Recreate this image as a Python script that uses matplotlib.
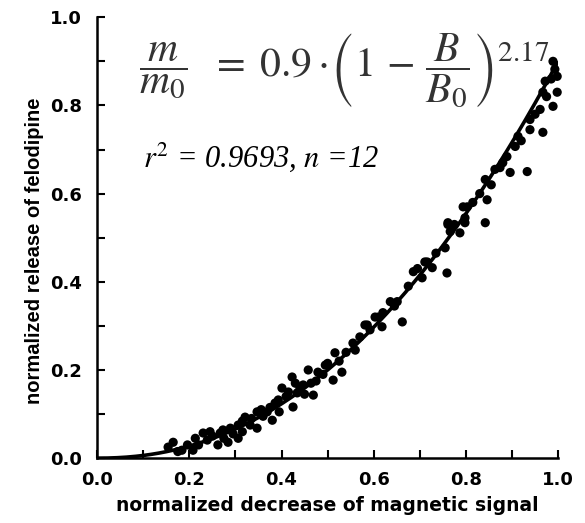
import matplotlib
matplotlib.use("Agg")
import matplotlib.pyplot as plt
import numpy as np

# Data
x_data = [0.154, 0.165, 0.184, 0.208, 0.213, 0.230, 0.239, 0.262, 0.267, 0.284,
          0.289, 0.306, 0.306, 0.321, 0.332, 0.347, 0.347, 0.369, 0.380, 0.386,
          0.393, 0.401, 0.423, 0.425, 0.434, 0.440, 0.447, 0.458, 0.469, 0.479,
          0.495, 0.512, 0.516, 0.531, 0.555, 0.581, 0.586, 0.592, 0.603, 0.610,
          0.618, 0.636, 0.651, 0.662, 0.686, 0.705, 0.711, 0.716, 0.727, 0.755,
          0.759, 0.761, 0.761, 0.766, 0.787, 0.794, 0.798, 0.798, 0.803, 0.842,
          0.842, 0.846, 0.863, 0.874, 0.889, 0.896, 0.907, 0.913, 0.933, 0.939,
          0.939, 0.961, 0.967, 0.967, 0.972, 0.989, 0.989, 0.993, 0.998, 0.998,
          0.196, 0.250, 0.273, 0.315, 0.356, 0.410, 0.464, 0.500, 0.540, 0.570,
          0.175, 0.220, 0.245, 0.275, 0.295, 0.315, 0.335, 0.360, 0.375, 0.395,
          0.415, 0.430, 0.450, 0.475, 0.490, 0.525, 0.560, 0.620, 0.645, 0.675,
          0.695, 0.735, 0.775, 0.815, 0.830, 0.855, 0.880, 0.920, 0.950, 0.975,
          0.985]
y_data = [0.025, 0.036, 0.018, 0.018, 0.045, 0.057, 0.041, 0.030, 0.057, 0.036,
          0.068, 0.045, 0.075, 0.093, 0.075, 0.105, 0.068, 0.105, 0.086, 0.125,
          0.132, 0.159, 0.184, 0.116, 0.148, 0.159, 0.166, 0.200, 0.143, 0.195,
          0.211, 0.177, 0.239, 0.195, 0.261, 0.302, 0.302, 0.291, 0.320, 0.320,
          0.298, 0.355, 0.355, 0.309, 0.423, 0.409, 0.445, 0.445, 0.432, 0.477,
          0.420, 0.530, 0.534, 0.514, 0.511, 0.570, 0.545, 0.534, 0.570, 0.534,
          0.632, 0.586, 0.655, 0.659, 0.684, 0.648, 0.707, 0.730, 0.650, 0.745,
          0.768, 0.791, 0.739, 0.830, 0.855, 0.798, 0.900, 0.882, 0.830, 0.866,
          0.030, 0.050, 0.064, 0.084, 0.110, 0.140, 0.170, 0.215, 0.240, 0.275,
          0.015, 0.030, 0.060, 0.045, 0.055, 0.060, 0.090, 0.095, 0.115, 0.105,
          0.150, 0.170, 0.145, 0.175, 0.190, 0.220, 0.245, 0.330, 0.345, 0.390,
          0.430, 0.465, 0.530, 0.580, 0.600, 0.620, 0.670, 0.720, 0.780, 0.820,
          0.860]

coef = 0.9
expo = 2.17

x_ticks = [0.0, 0.2, 0.4, 0.6, 0.8, 1.0]
y_ticks = [0.0, 0.2, 0.4, 0.6, 0.8, 1.0]

fig = plt.figure(figsize=(5.85, 5.23), dpi=100)
ax = fig.add_axes([0.166, 0.124, 0.788, 0.843])

xc = np.linspace(0, 1, 300)
ax.plot(xc, coef * xc ** expo, color='black', lw=2.6, zorder=3, solid_capstyle='butt')
ax.scatter(x_data, y_data, s=44, color='black', zorder=4, edgecolors='none', clip_on=False)

ax.set_xlim(0, 1)
ax.set_ylim(0, 1)
for s in ['top', 'right']:
    ax.spines[s].set_visible(False)
for s in ['left', 'bottom']:
    ax.spines[s].set_linewidth(1.8)

ax.set_xticks(x_ticks)
ax.set_yticks(y_ticks)
ax.set_xticks(np.arange(0.1, 1.0, 0.2), minor=True)
ax.set_yticks(np.arange(0.1, 1.0, 0.2), minor=True)
ax.tick_params(which='both', direction='in', length=6, width=1.5)
ax.set_xticklabels([f"{v:.1f}" for v in x_ticks])
ax.set_yticklabels([f"{v:.1f}" for v in y_ticks])
for lab in ax.get_xticklabels() + ax.get_yticklabels():
    lab.set_fontfamily('DejaVu Sans')
    lab.set_fontweight('bold')
    lab.set_fontsize(13)
ax.tick_params(axis='x', pad=9)
ax.tick_params(axis='y', pad=11)

ax.set_xlabel('normalized decrease of magnetic signal', fontfamily='DejaVu Sans',
              fontweight='bold', fontsize=13.5, labelpad=5)
ax.set_ylabel('normalized release of felodipine', fontfamily='Liberation Sans',
              fontweight='bold', fontsize=14.5)
ax.yaxis.set_label_coords(-0.115, 0.47)

plt.rcParams['mathtext.fontset'] = 'stix'
fig.text(0.237, 0.865,
         r'$\dfrac{m}{m_0}\ \ =\;0.9\cdot\!\left(1\,-\,\dfrac{B}{B_0}\right)^{2.17}$',
         fontsize=30, color='#333333', va='center', ha='left')
fig.text(0.245, 0.70, r'$r^2$ = 0.9693, $n$ =12', fontsize=22, fontfamily='Liberation Serif',
         style='italic', va='center', ha='left')

fig.savefig('out.png', dpi=100)
